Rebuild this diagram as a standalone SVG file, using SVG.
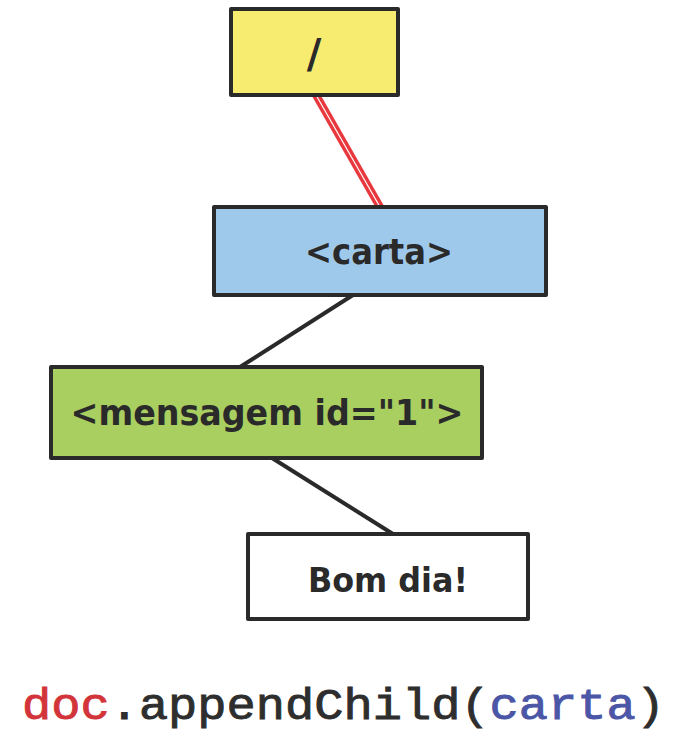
<svg xmlns="http://www.w3.org/2000/svg" width="677" height="732" viewBox="0 0 677 732">
  <style>
    .box { stroke: #2a2a2a; stroke-width: 4; stroke-linejoin: round; }
    .edge { stroke: #2a2a2a; stroke-width: 4; fill: none; }
    .label { font-family: "DejaVu Sans", Verdana, sans-serif; font-weight: bold; fill: #2a2a2a; text-anchor: middle; }
    .code { font-family: "Liberation Mono", "Courier New", monospace; font-size: 44px; fill: #2e2e2e; stroke: #2e2e2e; stroke-width: 0.9; }
  </style>
  <rect width="677" height="732" fill="#ffffff"/>

  <!-- connectors -->
  <g id="connectors">
    <line x1="316" y1="95" x2="380" y2="207" stroke="#e8383d" stroke-width="8"/>
    <line x1="316" y1="95" x2="380" y2="207" stroke="#ffffff" stroke-width="1.2"/>
    <line class="edge" x1="353" y1="295" x2="240" y2="367"/>
    <line class="edge" x1="272" y1="458" x2="393" y2="534"/>
  </g>

  <g id="root">
    <rect class="box" x="231" y="9" width="167" height="86" fill="#f8ec70"/>
    <text class="label" x="314" y="68" font-size="40">/</text>
  </g>

  <g id="carta">
    <rect class="box" x="214" y="207" width="332" height="88" fill="#9fc9eb"/>
    <text class="label" x="379" y="264" font-size="35" textLength="148" lengthAdjust="spacingAndGlyphs">&lt;carta&gt;</text>
  </g>

  <g id="mensagem">
    <rect class="box" x="51" y="367" width="431" height="91" fill="#a8cf60"/>
    <text class="label" x="267" y="425" font-size="35" textLength="393" lengthAdjust="spacingAndGlyphs">&lt;mensagem id="1"&gt;</text>
  </g>

  <g id="texto">
    <rect class="box" x="248" y="534" width="280" height="85" fill="#ffffff"/>
    <text class="label" x="388" y="592" font-size="34" textLength="160" lengthAdjust="spacingAndGlyphs">Bom dia!</text>
  </g>

  <text class="code" x="22" y="719" textLength="643" lengthAdjust="spacingAndGlyphs"><tspan fill="#d2343a" stroke="#d2343a">doc</tspan>.appendChild(<tspan fill="#4b56a6" stroke="#4b56a6">carta</tspan>)</text>
</svg>
